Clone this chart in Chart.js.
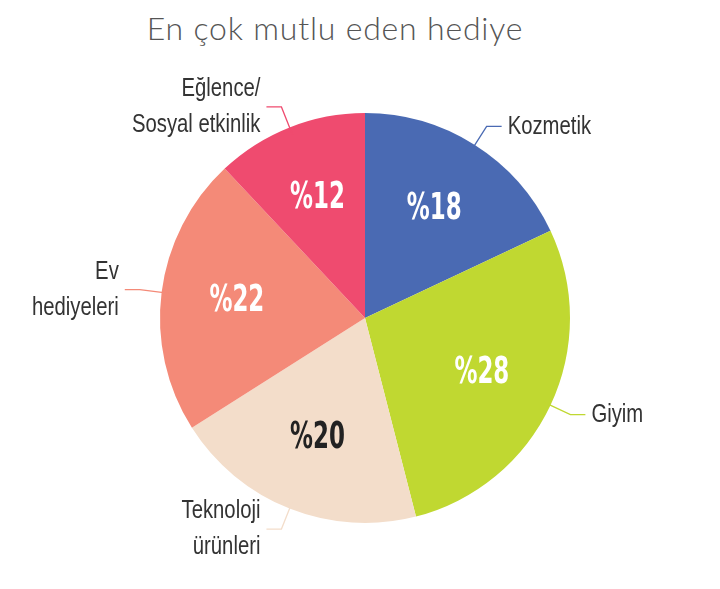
<!DOCTYPE html>
<html><head><meta charset="utf-8">
<script src="https://cdn.jsdelivr.net/npm/chart.js@4"></script>
<style>
body{margin:0;background:#fff;}
#title{position:absolute;left:0;width:670px;top:8px;text-align:center;font-family:Lato,sans-serif;font-weight:300;font-size:32px;color:#555;letter-spacing:0.8px}
#wrap{position:absolute;left:0;top:0;width:720px;height:589px}
</style></head>
<body>
<div id="title">En çok mutlu eden hediye</div>
<div id="wrap"><canvas id="chart"></canvas></div>
<script>
var labels = ['Kozmetik', 'Giyim', 'Teknoloji\nürünleri', 'Ev\nhediyeleri', 'Eğlence/\nSosyal etkinlik'];
var values = [18, 28, 20, 22, 12];
var colors = ['#4a6ab3', '#c0d831', '#f3ddca', '#f48a78', '#ef4b6f'];
var valueColors = ['#fff', '#fff', '#222', '#fff', '#fff'];

// draw text squeezed horizontally (condensed look)
function narrowText(ctx, text, x, y, sx) {
    ctx.save();
    ctx.translate(x, y);
    ctx.scale(sx, 1);
    ctx.fillText(text, 0, 0);
    ctx.restore();
}

var labelPlugin = {
    id: 'labels',
    afterDatasetsDraw: function(chart) {
        var ctx = chart.ctx;
        var arcs = chart.getDatasetMeta(0).data;
        ctx.save();
        arcs.forEach(function(arc, i) {
            var a = (arc.startAngle + arc.endAngle) / 2;
            var r = arc.outerRadius;
            var cx = arc.x, cy = arc.y;
            ctx.font = 'bold 37px "DejaVu Sans", sans-serif';
            ctx.fillStyle = valueColors[i];
            ctx.textAlign = 'center';
            ctx.textBaseline = 'middle';
            narrowText(ctx, '%' + values[i], cx + Math.cos(a) * r * 0.63, cy + Math.sin(a) * r * 0.63, 0.62);
            var x1 = cx + Math.cos(a) * (r - 8), y1 = cy + Math.sin(a) * (r - 8);
            var x2 = cx + Math.cos(a) * (r + 22), y2 = cy + Math.sin(a) * (r + 22);
            var right = Math.cos(a) >= 0;
            var x3 = x2 + (right ? 15 : -15);
            ctx.strokeStyle = colors[i];
            ctx.lineWidth = 1.3;
            ctx.beginPath();
            ctx.moveTo(x1, y1); ctx.lineTo(x2, y2); ctx.lineTo(x3, y2);
            ctx.stroke();
            var lines = labels[i].split('\n');
            ctx.font = '26px "Liberation Sans", sans-serif';
            ctx.fillStyle = '#333';
            ctx.textAlign = right ? 'left' : 'right';
            var lh = 36;
            var ty = y2 - (lines.length - 1) * lh / 2;
            lines.forEach(function(l, k) {
                narrowText(ctx, l, x3 + (right ? 6 : -6), ty + k * lh, 0.78);
            });
        });
        ctx.restore();
    }
};

var ctx = document.getElementById('chart').getContext('2d');
new Chart(ctx, {
    type: 'pie',
    data: {
        labels: labels,
        datasets: [{ data: values, backgroundColor: colors, borderWidth: 0 }]
    },
    options: {
        responsive: true,
        maintainAspectRatio: false,
        animation: false,
        layout: { padding: { left: 160, right: 150, top: 113, bottom: 66 } },
        plugins: { legend: { display: false }, tooltip: { enabled: false } }
    },
    plugins: [labelPlugin]
});
</script>
</body></html>
